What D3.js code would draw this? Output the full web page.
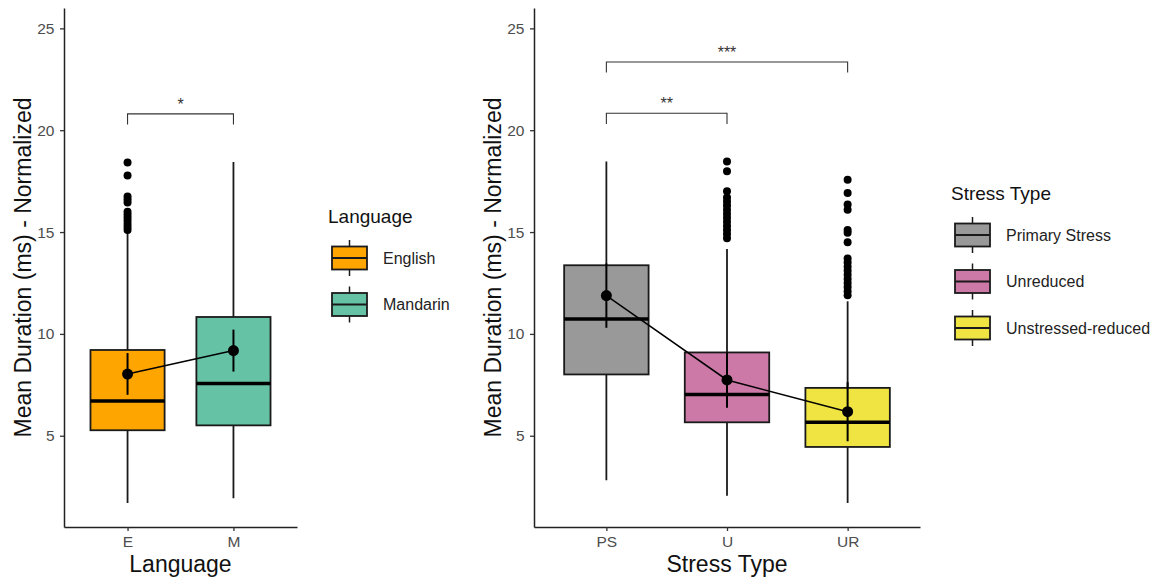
<!DOCTYPE html>
<html>
<head>
<meta charset="utf-8">
<script src="https://cdn.jsdelivr.net/npm/d3@7"></script>
<style>
  body { margin: 0; background: #fff; }
  svg { font-family: "Liberation Sans", Arial, sans-serif; }
</style>
</head>
<body>
<svg id="chart" width="1159" height="582"></svg>
<script>
// ---- data: language panel ----
const langCats = ["E", "M"];
const langNames = ["English", "Mandarin"];
const langColors = ["#FFA500", "#66C2A5"];
const langLow = [1.70, 1.93];
const langQ1 = [5.27, 5.51];
const langMedian = [6.71, 7.57];
const langQ3 = [9.21, 10.83];
const langHigh = [15.0, 18.44];
const langMean = [8.03, 9.18];
const langMeanLo = [7.01, 8.15];
const langMeanHi = [9.06, 10.21];
const langOutliers = [
  [18.42, 17.78, 16.75, 16.6, 16.45, 16.0, 15.85, 15.7, 15.55, 15.4, 15.25, 15.1],
  []
];

// ---- data: stress panel ----
const stressCats = ["PS", "U", "UR"];
const stressNames = ["Primary Stress", "Unreduced", "Unstressed-reduced"];
const stressColors = ["#999999", "#CC79A7", "#F0E442"];
const stressLow = [2.81, 2.06, 1.70];
const stressQ1 = [8.01, 5.66, 4.45];
const stressMedian = [10.73, 7.02, 5.66];
const stressQ3 = [13.37, 9.09, 7.35];
const stressHigh = [18.46, 14.17, 11.60];
const stressMean = [11.88, 7.74, 6.18];
const stressMeanLo = [10.30, 6.38, 4.73];
const stressMeanHi = [13.46, 9.10, 7.63];
const stressOutliers = [
  [],
  [18.47, 17.98, 17.0, 16.7, 16.5, 16.3, 16.1, 15.9, 15.7, 15.5, 15.3, 15.1, 14.9, 14.7],
  [17.57, 16.92, 16.35, 16.1, 15.1, 14.97, 14.5, 13.7, 13.5, 13.3, 13.1, 12.9, 12.7, 12.5, 12.3, 12.1, 11.9]
];

const yTicks = [5, 10, 15, 20, 25];
const yTitle = "Mean Duration (ms) - Normalized";

const svg = d3.select("#chart");
const y = d3.scaleLinear().domain([0.52, 26.0]).range([527, 8]);

function panel(opt) {
  const g = svg.append("g");
  const x = d3.scalePoint().domain(opt.cats).range([opt.x0, opt.x1]).padding(0.6);
  const bw = x.step() * 0.7;
  const rows = opt.cats.map((c, i) => ({
    c, i, low: opt.low[i], q1: opt.q1[i], med: opt.median[i], q3: opt.q3[i], high: opt.high[i],
    mean: opt.mean[i], lo: opt.meanLo[i], hi: opt.meanHi[i], out: opt.outliers[i], col: opt.colors[i]
  }));

  // axes
  const ya = g.append("g").attr("transform", `translate(${opt.x0},0)`)
    .call(d3.axisLeft(y).tickValues(yTicks).tickSize(4).tickSizeOuter(0).tickPadding(5.5));
  const xa = g.append("g").attr("transform", "translate(0,527)")
    .call(d3.axisBottom(x).tickSize(4).tickSizeOuter(0).tickPadding(5));
  [ya, xa].forEach(a => {
    a.select(".domain").attr("stroke", "#222").attr("stroke-width", 1.5);
    a.selectAll(".tick line").attr("stroke", "#333").attr("stroke-width", 1.3);
    a.selectAll("text").attr("fill", "#4d4d4d").attr("font-size", 15.5);
  });

  g.append("text").attr("transform", `translate(${opt.x0 - 33},${(8 + 527) / 2}) rotate(-90)`)
    .attr("text-anchor", "middle").attr("font-size", 23).attr("fill", "#111").text(yTitle);
  g.append("text").attr("x", (opt.x0 + opt.x1) / 2).attr("y", 572)
    .attr("text-anchor", "middle").attr("font-size", 23).attr("fill", "#111").text(opt.xTitle);

  // whiskers
  g.selectAll(".whisk").data(rows).join("line")
    .attr("x1", d => x(d.c)).attr("x2", d => x(d.c))
    .attr("y1", d => y(d.low)).attr("y2", d => y(d.high))
    .attr("stroke", "#1a1a1a").attr("stroke-width", 1.8);
  // boxes
  g.selectAll(".box").data(rows).join("rect")
    .attr("x", d => x(d.c) - bw / 2).attr("width", bw)
    .attr("y", d => y(d.q3)).attr("height", d => y(d.q1) - y(d.q3))
    .attr("fill", d => d.col).attr("stroke", "#1a1a1a").attr("stroke-width", 1.8);
  g.selectAll(".med").data(rows).join("line")
    .attr("x1", d => x(d.c) - bw / 2).attr("x2", d => x(d.c) + bw / 2)
    .attr("y1", d => y(d.med)).attr("y2", d => y(d.med))
    .attr("stroke", "#000").attr("stroke-width", 3.5);
  // outliers
  rows.forEach(d => {
    g.selectAll(null).data(d.out).join("circle")
      .attr("cx", x(d.c)).attr("cy", v => y(v)).attr("r", 4).attr("fill", "#000");
  });

  // mean line, error bars, points
  g.append("path").datum(rows)
    .attr("d", d3.line().x(d => x(d.c)).y(d => y(d.mean)))
    .attr("fill", "none").attr("stroke", "#000").attr("stroke-width", 1.5);
  g.selectAll(".err").data(rows).join("line")
    .attr("x1", d => x(d.c)).attr("x2", d => x(d.c))
    .attr("y1", d => y(d.lo)).attr("y2", d => y(d.hi))
    .attr("stroke", "#000").attr("stroke-width", 2);
  g.selectAll(".mpt").data(rows).join("circle")
    .attr("cx", d => x(d.c)).attr("cy", d => y(d.mean)).attr("r", 5.5).attr("fill", "#000");

  // significance brackets
  opt.brackets.forEach(b => {
    const xa1 = x(b.from), xa2 = x(b.to), yb = y(b.at), yt = y(b.at - 0.52);
    g.append("path").attr("d", `M${xa1},${yt}V${yb}H${xa2}V${yt}`)
      .attr("fill", "none").attr("stroke", "#333").attr("stroke-width", 1.1);
    g.append("text").attr("x", (xa1 + xa2) / 2).attr("y", yb - 4)
      .attr("text-anchor", "middle").attr("font-size", 16).attr("fill", "#333").text(b.label);
  });

  // legend
  const lg = svg.append("g");
  lg.append("text").attr("x", opt.legX - 4).attr("y", opt.legY).attr("font-size", 19)
    .attr("fill", "#111").text(opt.legTitle);
  opt.names.forEach((n, i) => {
    const cy = opt.legY + 35 + i * 46.5;
    const kx = opt.legX, kw = 35, kh = 23;
    lg.append("line").attr("x1", kx + kw / 2).attr("x2", kx + kw / 2)
      .attr("y1", cy - 18).attr("y2", cy + 18).attr("stroke", "#1a1a1a").attr("stroke-width", 1.5);
    lg.append("rect").attr("x", kx).attr("y", cy - kh / 2).attr("width", kw).attr("height", kh)
      .attr("fill", opt.colors[i]).attr("stroke", "#1a1a1a").attr("stroke-width", 1.8);
    lg.append("line").attr("x1", kx).attr("x2", kx + kw).attr("y1", cy).attr("y2", cy)
      .attr("stroke", "#1a1a1a").attr("stroke-width", 1.8);
    lg.append("text").attr("x", kx + 51).attr("y", cy).attr("dy", "0.35em")
      .attr("font-size", 16).attr("fill", "#222").text(n);
  });
}

panel({
  cats: langCats, names: langNames, colors: langColors, low: langLow, q1: langQ1, median: langMedian,
  q3: langQ3, high: langHigh, mean: langMean, meanLo: langMeanLo, meanHi: langMeanHi, outliers: langOutliers,
  x0: 64, x1: 297, xTitle: "Language", legTitle: "Language", legX: 332, legY: 223,
  brackets: [{ from: "E", to: "M", at: 20.8, label: "*" }]
});

panel({
  cats: stressCats, names: stressNames, colors: stressColors, low: stressLow, q1: stressQ1, median: stressMedian,
  q3: stressQ3, high: stressHigh, mean: stressMean, meanLo: stressMeanLo, meanHi: stressMeanHi, outliers: stressOutliers,
  x0: 534, x1: 920, xTitle: "Stress Type", legTitle: "Stress Type", legX: 955, legY: 200,
  brackets: [
    { from: "PS", to: "U", at: 20.83, label: "**" },
    { from: "PS", to: "UR", at: 23.35, label: "***" }
  ]
});
</script>
</body>
</html>
